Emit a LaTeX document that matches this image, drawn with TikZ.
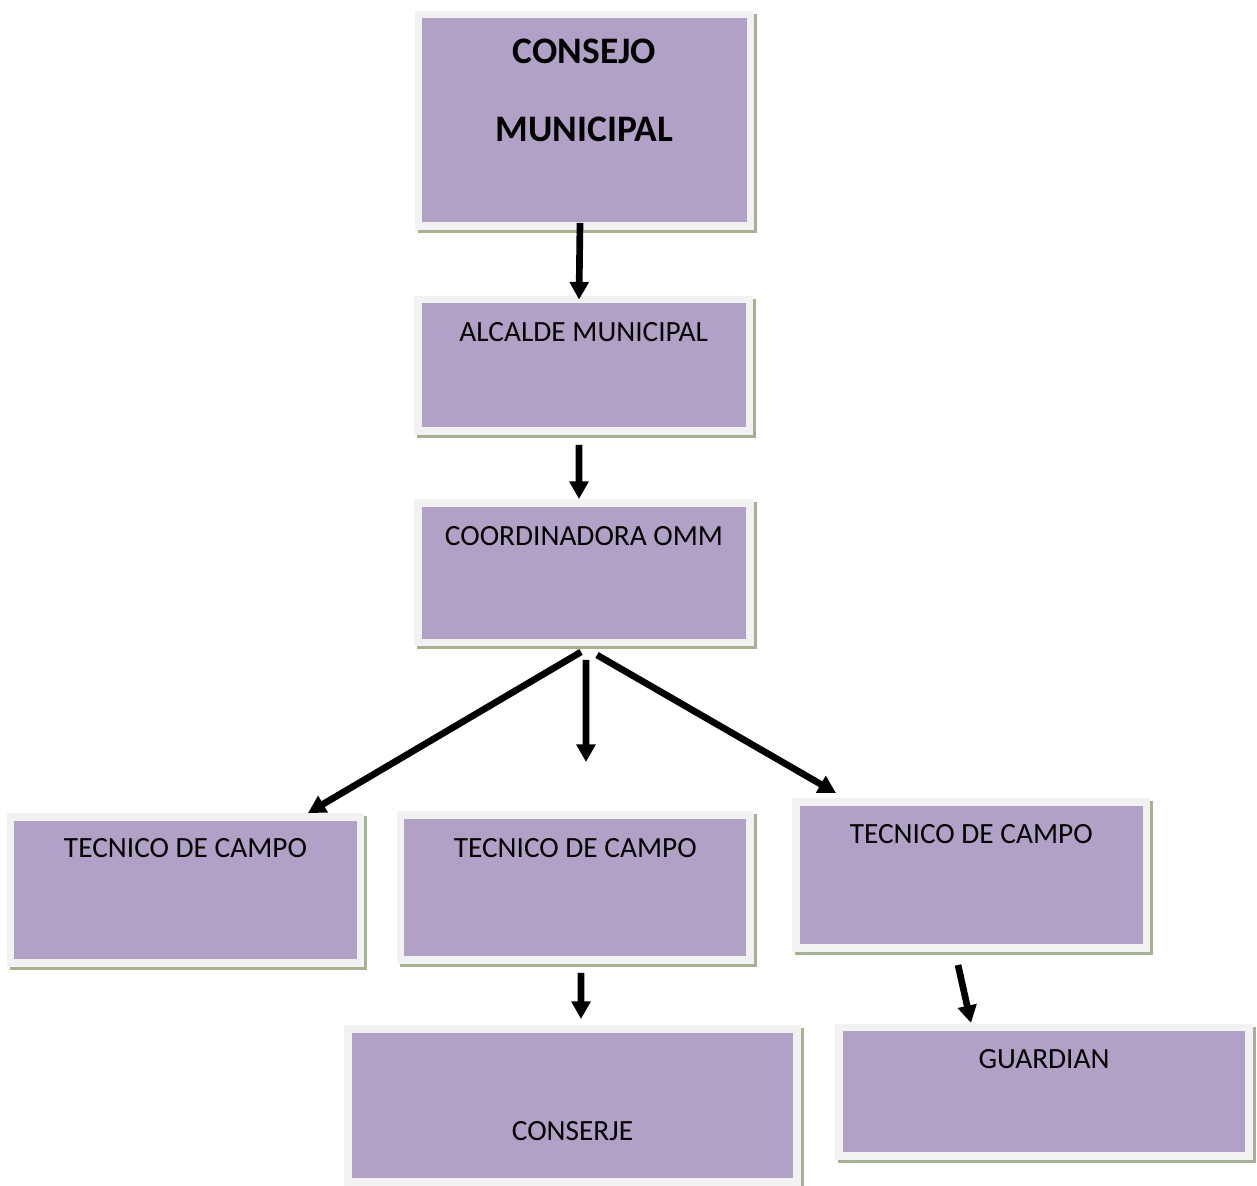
\documentclass[tikz,border=0pt]{standalone}
\usepackage{fontspec}
\setmainfont{Carlito}
\usepackage{xcolor}
\usepackage{tikz}
\usetikzlibrary{arrows.meta}

\definecolor{boxpurple}{HTML}{B2A1C7}
\definecolor{boxgray}{HTML}{F2F2F2}
\definecolor{shadowgreen}{HTML}{A6B192}

\begin{document}
\begin{tikzpicture}[x=0.02cm, y=-0.02cm,
  orgbox/.style={rectangle, fill=boxpurple, draw=boxgray, line width=4.25pt, inner sep=0pt, outer sep=0pt,
    font=\fontsize{16.7pt}{20pt}\selectfont,
    preaction={draw=shadowgreen, line width=4.25pt, transform canvas={shift={(1.7pt,-1.7pt)}}}},
  orgarrow/.style={line width=3.8pt, -{Triangle[width=10.5pt, length=10pt]}}]
\useasboundingbox (0,0) rectangle (1257,1186);

\node[orgbox, minimum width=6.64cm, text height=2.55cm, text depth=1.68cm, align=center,
  font=\bfseries\fontsize{21.3pt}{25pt}\selectfont] (consejo) at (584.5, 120.25) {CONSEJO\\[19.8pt]MUNICIPAL};
\node[orgbox, minimum width=6.63cm, text height=0.83cm, text depth=1.80cm] (alcalde) at (583.75, 365.25) {ALCALDE MUNICIPAL};
\node[orgbox, minimum width=6.64cm, text height=0.84cm, text depth=1.95cm] (coord) at (584, 572.75) {COORDINADORA OMM};

\node[orgbox, minimum width=7.00cm, text height=0.80cm, text depth=2.12cm] (tecleft) at (185.5, 890) {TECNICO DE CAMPO};
\node[orgbox, minimum width=6.99cm, text height=0.84cm, text depth=2.06cm] (tecmid) at (575.25, 887.5) {TECNICO DE CAMPO};
\node[orgbox, minimum width=7.01cm, text height=0.82cm, text depth=2.10cm] (tecright) at (971.25, 875) {TECNICO DE CAMPO};

\node[orgbox, minimum width=8.98cm, text height=2.22cm, text depth=0.84cm] (conserje) at (572.5, 1105.5) {CONSERJE};
\node[orgbox, minimum width=8.20cm, text height=0.81cm, text depth=1.76cm] (guardian) at (1044, 1091.75) {GUARDIAN};

\coordinate (midend) at (586, 762);

\draw[orgarrow] ([xshift=-0.09cm, yshift=0.06cm]consejo.south) -- ([xshift=-0.095cm]alcalde.north);
\draw[orgarrow] ([xshift=-0.095cm, yshift=-0.28cm]alcalde.south) -- ([xshift=-0.1cm, yshift=0.08cm]coord.north);
\draw[orgarrow] ([xshift=-0.06cm, yshift=-0.19cm]coord.south) -- ([xshift=-1.05cm, yshift=0.08cm]tecleft.north east);
\draw[orgarrow] ([xshift=0.04cm, yshift=-0.35cm]coord.south) -- (midend);
\draw[orgarrow] ([xshift=0.26cm, yshift=-0.25cm]coord.south) -- ([xshift=0.8cm, yshift=0.18cm]tecright.north west);
\draw[orgarrow] ([xshift=0.115cm, yshift=-0.26cm]tecmid.south) -- ([xshift=0.17cm, yshift=0.2cm]conserje.north);
\draw[orgarrow] ([xshift=-0.265cm, yshift=-0.34cm]tecright.south) -- ([xshift=-1.46cm, yshift=0.09cm]guardian.north);

\end{tikzpicture}
\end{document}
